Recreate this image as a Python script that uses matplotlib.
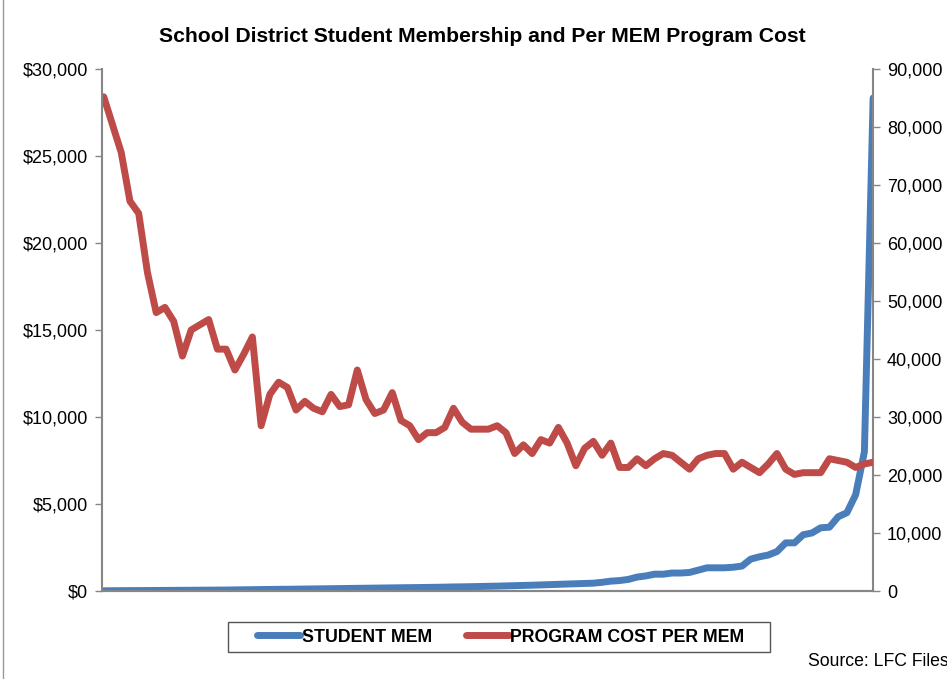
import matplotlib.pyplot as plt
from matplotlib.ticker import FuncFormatter
from matplotlib.lines import Line2D
from matplotlib.patches import Rectangle

plt.rcParams['font.family'] = ['Liberation Sans', 'DejaVu Sans']

# program cost per MEM ($), one value per district, left axis
program_cost = [28400, 26800, 25200, 22400, 21700, 18300, 16000, 16300, 15500, 13500,
                15000, 15300, 15600, 13900, 13900, 12700, 13600, 14600, 9500, 11300,
                12000, 11700, 10400, 10900, 10500, 10300, 11300, 10600, 10700, 12700,
                11000, 10200, 10400, 11400, 9800, 9500, 8700, 9100, 9100, 9400,
                10500, 9700, 9300, 9300, 9300, 9500, 9100, 7900, 8400, 7900,
                8700, 8500, 9400, 8500, 7200, 8200, 8600, 7800, 8500, 7100,
                7100, 7600, 7200, 7600, 7900, 7800, 7400, 7000, 7600, 7800,
                7900, 7900, 7000, 7400, 7100, 6800, 7300, 7900, 7000, 6700,
                6800, 6800, 6800, 7600, 7500, 7400, 7100, 7300, 7400]

# student membership, right axis
student_mem = [40, 50, 60, 70, 75, 80, 90, 100, 110, 120,
               130, 140, 150, 160, 170, 190, 210, 230, 250, 270,
               290, 300, 320, 340, 360, 380, 400, 420, 440, 460,
               480, 500, 520, 540, 560, 580, 600, 620, 640, 670,
               700, 720, 750, 780, 810, 840, 880, 920, 960, 1000,
               1050, 1100, 1150, 1200, 1250, 1300, 1350, 1500, 1700, 1800,
               2000, 2400, 2600, 2900, 2900, 3100, 3100, 3200, 3600, 4000,
               4000, 4000, 4100, 4300, 5500, 5900, 6200, 6800, 8300, 8300,
               9700, 10000, 10900, 11000, 12800, 13500, 16600, 24000, 85000]

x = list(range(len(program_cost)))

blue = '#4A7EBB'
red = '#BE4B48'
grey = '#868686'
W, H = 947, 679

fig = plt.figure(figsize=(9.47, 6.79), dpi=100)
ax = fig.add_axes([0.1077, 0.1296, 0.8143, 0.7688])
ax2 = ax.twinx()

ax.plot(x, program_cost, color=red, lw=5, solid_capstyle='round', solid_joinstyle='round')
ax2.plot(x, student_mem, color=blue, lw=5, solid_capstyle='round', solid_joinstyle='round')

# red on top of blue
ax.set_zorder(ax2.get_zorder() + 1)
ax.patch.set_visible(False)

ax.set_xlim(-0.2, 88)
ax.set_ylim(0, 30000)
ax2.set_ylim(0, 90000)
ax.set_yticks(range(0, 30001, 5000))
ax2.set_yticks(range(0, 90001, 10000))
ax.yaxis.set_major_formatter(FuncFormatter(lambda v, p: '${:,.0f}'.format(v)))
ax2.yaxis.set_major_formatter(FuncFormatter(lambda v, p: '{:,.0f}'.format(v)))
ax.set_xticks([])

for a in (ax, ax2):
    a.spines['top'].set_visible(False)
    for s in ('left', 'right', 'bottom'):
        a.spines[s].set_color(grey)
        a.spines[s].set_linewidth(1.5)
    a.tick_params(axis='y', colors=grey, labelcolor='black', labelsize=13, length=5, width=1, pad=5)
ax.spines['right'].set_visible(False)
ax2.spines['left'].set_visible(False)

fig.text(482 / W, 1 - 36 / H, 'School District Student Membership and Per MEM Program Cost',
         ha='center', va='center', fontsize=15.2, fontweight='bold')

# legend box drawn by hand, entries placed inside without a frame
fig.add_artist(Rectangle((228 / W, 1 - 652 / H), 542 / W, 30 / H, transform=fig.transFigure,
                         facecolor='white', edgecolor='#555555', lw=1.0))
handles = [Line2D([], [], color=blue, lw=5, solid_capstyle='round'),
           Line2D([], [], color=red, lw=5, solid_capstyle='round')]
leg = fig.legend(handles, ['STUDENT MEM', 'PROGRAM COST PER MEM'], loc='center',
                 bbox_to_anchor=(501 / W, 1 - 637 / H), ncol=2, frameon=False,
                 prop={'weight': 'bold', 'size': 12.8}, handlelength=2.4, handletextpad=0.1,
                 columnspacing=1.9)

fig.text(808 / W, 1 - 661 / H, 'Source: LFC Files', ha='left', va='center', fontsize=12.7)

# chart area border on the left edge
fig.add_artist(Line2D([3 / W, 3 / W], [0, 1], color='#999999', lw=1.0))

fig.savefig('out.png', dpi=100)
